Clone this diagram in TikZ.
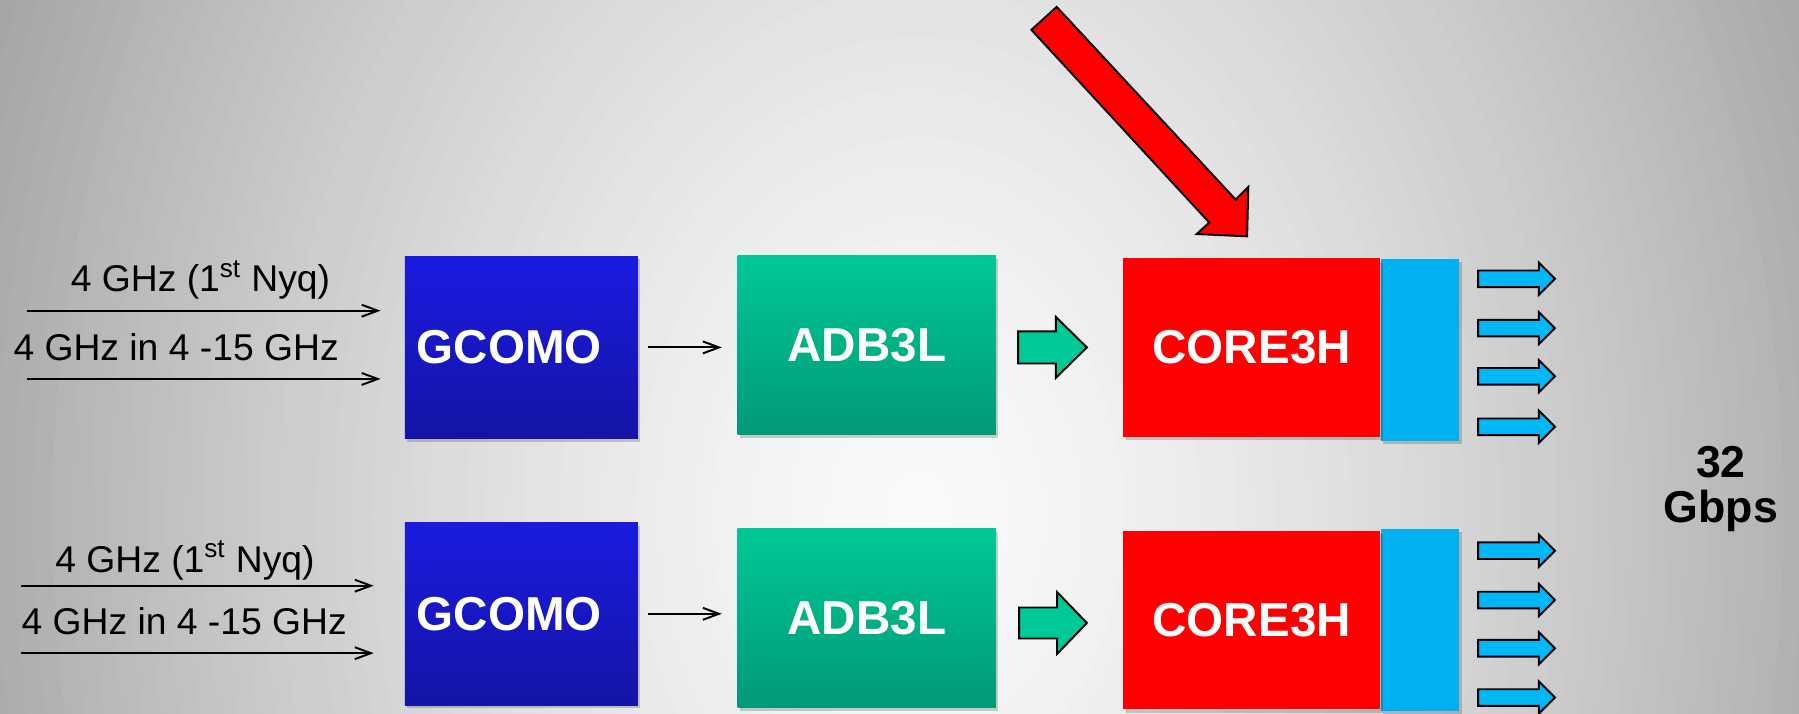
\documentclass[tikz,border=0pt]{standalone}
\usepackage{fontspec}
\setmainfont{Liberation Sans}
\usetikzlibrary{arrows.meta,shadows,calc}
\definecolor{gtop}{HTML}{1B1BE0}
\definecolor{gbot}{HTML}{1414A6}
\definecolor{atop}{HTML}{00C896}
\definecolor{abot}{HTML}{009A76}
\definecolor{corered}{HTML}{FF0000}
\definecolor{barblue}{HTML}{00B0F0}
\definecolor{outblue}{HTML}{00B8F5}
\definecolor{arrgreen}{HTML}{00C896}
\newcommand{\boxfont}{\fontsize{29.5pt}{32pt}\selectfont\bfseries}
\newcommand{\inpfont}{\fontsize{23.1pt}{26pt}\selectfont}
\newcommand{\ratefont}{\fontsize{27.7pt}{27.7pt}\selectfont\bfseries}
\begin{document}
\begin{tikzpicture}[x=0.025cm, y=-0.025cm,
  box/.style={draw=none, inner sep=0pt, text=white, font=\boxfont,
    drop shadow={shadow xshift=1.5pt, shadow yshift=-2pt, opacity=0.18, fill=black}},
  gcomobox/.style={box, top color=gtop, bottom color=gbot, minimum width=5.075cm, minimum height=3.98cm},
  adbbox/.style={box, top color=atop, bottom color=abot, minimum width=5.625cm, minimum height=3.9cm},
  corebox/.style={box, fill=corered, minimum width=5.6cm, minimum height=3.89cm},
  barbox/.style={box, fill=barblue, minimum width=1.71cm, minimum height=3.96cm},
  inlabel/.style={font=\inpfont, text=black, anchor=base, inner sep=0pt},
  thinarr/.style={-{Straight Barb[length=0.35cm,width=0.26cm]}, line width=1.2pt, black},
  pics/blockarr/.style args={#1/#2/#3/#4/#5}{code={
    \draw[fill=#5, draw=black, line width=1.2pt, line join=miter]
      (0,-#2) -- (#1-#4,-#2) -- (#1-#4,-#3) -- (#1,0) -- (#1-#4,#3) -- (#1-#4,#2) -- (0,#2) -- cycle;
  }}
]
\useasboundingbox (0,0) rectangle (1568,622);
\begin{scope}
  \clip (0,0) rectangle (1568,622);
  \fill[black!35] (0,0) rectangle (1568,622);
  \foreach \i in {66,65,...,1} {
    \pgfmathsetmacro\r{\i/50}
    \pgfmathsetmacro\g{max(0.6,(250-78*(\r^1.4))/255)}
    \definecolor{bgtmp}{gray}{\g}
    \fill[bgtmp] (800,450) ellipse [x radius={\r*820}, y radius={\r*1100}];
  }
\end{scope}

% boxes
\node[gcomobox] (G1) at (454.5,302.8) {\hspace*{-0.525cm}GCOMO};
\node[gcomobox] (G2) at (454.5,535) {\hspace*{-0.525cm}GCOMO};
\node[adbbox] (A1) at (755.5,300.8) {ADB3L};
\node[adbbox] (A2) at (755.5,538.6) {ADB3L};
\node[barbox] (B1) at (1237.6,304.9) {};
\node[barbox] (B2) at (1237.6,540.4) {};
\node[corebox] (C1) at (1091,303) {CORE3H};
\node[corebox] (C2) at (1091,540.4) {CORE3H};

% input labels and arrows
\node[inlabel] (L1) at (174.7,254.2) {4 GHz (1\textsuperscript{st} Nyq)};
\node[inlabel] (L2) at (153.5,313.8) {4 GHz in 4 -15 GHz};
\node[inlabel] (L3) at (161.2,498.9) {4 GHz (1\textsuperscript{st} Nyq)};
\node[inlabel] (L4) at (160.5,552.9) {4 GHz in 4 -15 GHz};
\coordinate (i1) at (23.8,270.8);
\coordinate (i2) at (23.8,330.3);
\coordinate (i3) at (18,510.5);
\coordinate (i4) at (18,569.3);
\draw[thinarr, shorten >=0.525cm] (i1) -- (i1 -| G1.west);
\draw[thinarr, shorten >=0.525cm] (i2) -- (i2 -| G1.west);
\draw[thinarr, shorten >=0.675cm] (i3) -- (i3 -| G2.west);
\draw[thinarr, shorten >=0.675cm] (i4) -- (i4 -| G2.west);

% GCOMO -> ADB3L
\draw[thinarr, shorten <=0.215cm, shorten >=0.34cm] (G1.east) -- (G1.east -| A1.west);
\draw[thinarr, shorten <=0.215cm, shorten >=0.34cm] (G2.east) -- (G2.east -| A2.west);

% ADB3L -> CORE3H block arrows
\path (A1.east) ++(19,2) pic (GA1) {blockarr={60/14/26.5/27/arrgreen}};
\path (A2.east) ++(20,4.4) pic (GA2) {blockarr={59/13.5/27/26/arrgreen}};

% output arrows
\foreach \dy [count=\k] in {-61.9,-18.9,23.1,67.1}
  \path (B1.east) ++(16.2,\dy) pic (OA1\k) {blockarr={67/7.25/14/14/outblue}};
\foreach \dy [count=\k] in {-60.4,-17.4,24.6,67.6}
  \path (B2.east) ++(16.2,\dy) pic (OA2\k) {blockarr={67/7.25/14/14/outblue}};

% big red arrow
\draw[fill=corered, draw=black, line width=1.2pt, line join=miter]
  (921,6) -- (1077,174) -- (1088,163) -- (1087,206) -- (1043,204) -- (1054,194) -- (899,26) -- cycle;

% rate
\node[font=\ratefont, align=center, text=black, inner sep=0pt] (rate) at (1500,426) {32\\Gbps};
\end{tikzpicture}
\end{document}
